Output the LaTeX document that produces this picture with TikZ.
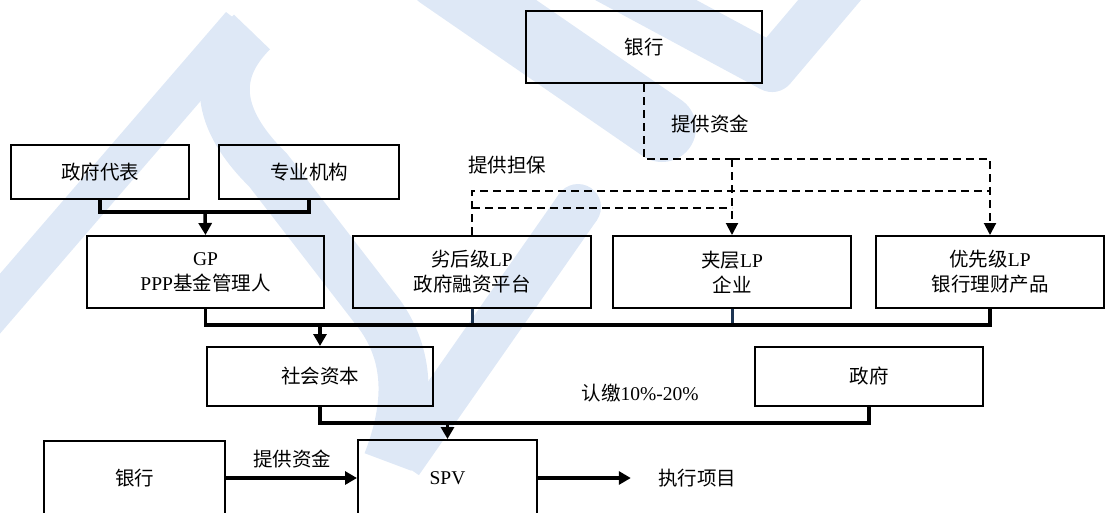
\documentclass[tikz,border=0pt]{standalone}
\usepackage{fontspec}
\setmainfont{Liberation Serif}
\newfontfamily\cjk{Noto Sans CJK SC}
\usetikzlibrary{arrows.meta}
\definecolor{wm}{RGB}{222,232,246}
\definecolor{navyline}{RGB}{28,52,82}
\newcommand\fsz{\fontsize{19.5pt}{25pt}\selectfont}
\begin{document}
\begin{tikzpicture}[x=1pt,y=-1pt,
  box/.style={draw, line width=2pt, inner sep=0pt, align=center, font=\fsz},
  lbl/.style={inner sep=0pt, align=center, font=\fsz},
  conn/.style={line width=3.5pt},
  arr/.style={line width=3.5pt, -{Triangle[length=12pt,width=13pt]}},
  dsh/.style={line width=2pt, dash pattern=on 8pt off 5pt},
  dsharr/.style={dsh, -{Triangle[length=12pt,width=12pt]}},
  navystub/.style={line width=3pt, draw=navyline},
  wmline/.style={draw=wm}]
\useasboundingbox (0,0) rectangle (1105,512);
\clip (0,0) rectangle (1105,512);
% watermark
\fill[wm] (226,12) -- (252,32) -- (236,60) -- (-40,380) -- (-40,320) -- cycle;
\draw[wmline, line width=50pt] (252,32) .. controls (212,72) and (215,118) .. (268,170) -- (380,315) .. controls (412,360) and (408,410) .. (388,462);
\draw[wmline, line width=68pt, line cap=round] (440,-25) -- (662,128);
\draw[wmline, line width=46pt] (578,207) -- (400,462);
\fill[wm] (578,207) circle (23pt);
\draw[wmline, line width=48pt, line join=round] (590,-30) -- (772,68) -- (855,-30);
% nodes
\node[box, minimum width=236pt, minimum height=72pt] (bk1) at (644,47) {{\cjk 银行}};
\node[box, minimum width=178pt, minimum height=54pt] (zfdb) at (100,172) {{\cjk 政府代表}};
\node[box, minimum width=180pt, minimum height=54pt] (zyjg) at (309,172) {{\cjk 专业机构}};
\node[box, minimum width=237pt, minimum height=72pt] (gp) at (205.5,272) {GP\\PPP{\cjk 基金管理人}};
\node[box, minimum width=238pt, minimum height=72pt] (lhj) at (472,272) {{\cjk 劣后级}LP\\{\cjk 政府融资平台}};
\node[box, minimum width=238pt, minimum height=72pt] (jc) at (732,272) {{\cjk 夹层}LP\\{\cjk 企业}};
\node[box, minimum width=228pt, minimum height=72pt] (yxj) at (990,272) {{\cjk 优先级}LP\\{\cjk 银行理财产品}};
\node[box, minimum width=226pt, minimum height=59pt] (shzb) at (320,376.5) {{\cjk 社会资本}};
\node[box, minimum width=228pt, minimum height=59pt] (zf) at (869,376.5) {{\cjk 政府}};
\node[box, minimum width=181pt, minimum height=74pt] (bk2) at (134.5,478) {{\cjk 银行}};
\node[box, minimum width=179pt, minimum height=76pt] (spv) at (447.5,478) {SPV};
\node[lbl] (zxxm) at (697,478) {{\cjk 执行项目}};
\node[lbl] (l1) at (710,124) {{\cjk 提供资金}};
\node[lbl] (l2) at (507,165) {{\cjk 提供担保}};
\node[lbl] (l3) at (640,393) {{\cjk 认缴}10\%-20\%};
\node[lbl] (l4) at (292,459) {{\cjk 提供资金}};
% coordinates
\coordinate (j1) at (205,212);
\coordinate (b1) at (320,325);
\coordinate (b2) at (447.5,423);
\coordinate (ya) at (0,159);
\coordinate (yb) at (0,191);
\coordinate (yc) at (0,208);
\coordinate (d1) at (jc.north |- ya);
\coordinate (g1) at (yxj.north |- yb);
% solid connectors
\draw[conn] (zfdb.south) |- (j1) -| (zyjg.south);
\draw[arr] (j1) -- (gp.north);
\draw[navystub] (lhj.south) -- (lhj.south |- b1);
\draw[navystub] (jc.south) -- (jc.south |- b1);
\draw[conn] (gp.south) |- (b1) -| (yxj.south);
\draw[arr] (b1) -- (shzb.north);
\draw[conn] (shzb.south) |- (b2) -| (zf.south);
\draw[arr] (b2) -- (spv.north);
\draw[line width=4pt, -{Triangle[length=12pt,width=13pt]}] (bk2.east) -- (spv.west);
\draw[line width=4pt, -{Triangle[length=12pt,width=13pt]}] (spv.east) -- ([xshift=-27pt]zxxm.west);
% dashed connectors
\draw[dsh] (bk1.south) |- (d1);
\draw[dsharr] (d1) -- (jc.north);
\draw[dsharr] (d1) -| (yxj.north);
\draw[dsh] (lhj.north) |- (g1);
\draw[dsh] (lhj.north |- yc) -- (jc.north |- yc);
\end{tikzpicture}
\end{document}
